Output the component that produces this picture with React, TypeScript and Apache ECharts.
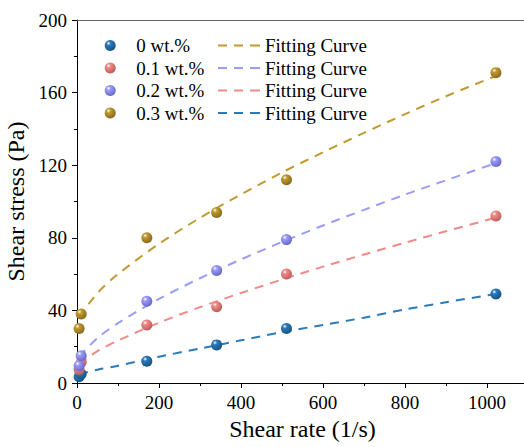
import React, { useEffect, useRef } from "react";
import * as echarts from "echarts";

const shearRate = [5.1, 10.2, 170.3, 340.6, 510.9, 1021.8];
const stress0 = [3.5, 5, 12, 21, 30, 49];
const stress1 = [7.5, 11.5, 32, 42, 60, 92];
const stress2 = [9.5, 15, 45, 62, 79, 122];
const stress3 = [30, 38, 80, 94, 112, 171];

const fitRate = [5, 50, 100, 200, 300, 400, 500, 600, 700, 800, 900, 1020];
const fit0 = [5, 7.3, 9.5, 14.5, 19, 23.5, 28, 32, 36, 40.5, 44.5, 49];
const fit1 = [10.5, 17.6, 23.4, 33.2, 41.8, 49.6, 57, 64.1, 70.8, 77.3, 83.6, 91];
const fit2 = [14.5, 24.8, 33, 46.3, 57.7, 68.1, 77.7, 86.8, 95.4, 103.8, 111.7, 121];
const fit3 = [36.3, 49.6, 60, 76.7, 91, 103.9, 116, 127.1, 137.8, 148.1, 158, 169];

const seriesNames = ["0 wt.%", "0.1 wt.%", "0.2 wt.%", "0.3 wt.%"];
const colors = ["#2b7bba", "#ef8a87", "#9b9bf8", "#c19a30"];
const darkColors = ["#15507f", "#b85a57", "#6464c4", "#84661a"];
const fitNames = ["Fitting Curve ", "Fitting Curve  ", "Fitting Curve   ", "Fitting Curve    "];

const FONT = "Liberation Serif";
const DASH_ICON = "path://M0,0h9v2h-9zM16,0h9v2h-9zM32,0h10v2h-10z";

export default function App() {
  const ref = useRef<HTMLDivElement>(null);
  useEffect(() => {
    if (!ref.current) return;
    const chart = echarts.init(ref.current, undefined, { renderer: "svg" });
    const pointSets = [stress0, stress1, stress2, stress3];
    const fitSets = [fit0, fit1, fit2, fit3];
    const scatterSeries = pointSets.map((vals, i) => ({
      type: "scatter",
      name: seriesNames[i],
      z: 5,
      symbolSize: 11,
      data: shearRate.map((x, j) => [x, vals[j]]),
      itemStyle: {
        opacity: 1,
        color: new echarts.graphic.RadialGradient(0.35, 0.3, 0.75, [
          { offset: 0, color: "#ffffff" },
          { offset: 0.25, color: colors[i] },
          { offset: 1, color: darkColors[i] },
        ]),
      },
    }));
    const lineSeries = fitSets.map((vals, i) => ({
      type: "line",
      name: fitNames[i],
      z: 3,
      smooth: 0.3,
      symbol: "none",
      showSymbol: false,
      data: fitRate.map((x, j) => [x, vals[j]]),
      itemStyle: { color: colors[i] },
      lineStyle: { color: colors[i], width: 2, type: [9, 7] },
    }));
    const legendText = { fontFamily: FONT, fontSize: 19, lineHeight: 19, color: "#000" };
    chart.setOption({
      animation: false,
      textStyle: { fontFamily: FONT },
      grid: { left: 77, top: 20, right: -4, bottom: 64, containLabel: false, outerBoundsMode: "none" },
      legend: [
        {
          data: seriesNames,
          orient: "vertical",
          left: 99.7,
          top: 31,
          itemWidth: 42,
          itemHeight: 11,
          itemGap: 3.5,
          selectedMode: false,
          icon: "circle",
          textStyle: legendText,
        },
        {
          data: [fitNames[3], fitNames[2], fitNames[1], fitNames[0]].map((n) => ({ name: n, icon: DASH_ICON })),
          orient: "vertical",
          left: 213,
          top: 31,
          itemWidth: 42,
          itemHeight: 2,
          itemGap: 3.5,
          selectedMode: false,
          formatter: (n: string) => n.trim(),
          textStyle: legendText,
        },
      ],
      xAxis: [
        {
          type: "value",
          min: 0,
          max: 1100,
          interval: 200,
          name: "Shear rate (1/s)",
          nameLocation: "middle",
          nameGap: 34,
          nameTextStyle: { fontFamily: FONT, fontSize: 24, color: "#000" },
          axisLine: { show: true, lineStyle: { color: "#000", width: 1 } },
          axisTick: { show: true, length: 5, lineStyle: { color: "#000" } },
          minorTick: { show: true, splitNumber: 2, length: 3, lineStyle: { color: "#000" } },
          splitLine: { show: false },
          axisLabel: {
            fontFamily: FONT, fontSize: 19, color: "#000", margin: 10, showMaxLabel: false,
            formatter: (v: number) => (v % 200 === 0 ? String(v) : ""),
          },
        },
        {
          type: "value",
          position: "top",
          min: 0,
          max: 1100,
          axisLine: { show: true, onZero: false, lineStyle: { color: "#666", width: 1 } },
          axisTick: { show: false },
          axisLabel: { show: false },
          splitLine: { show: false },
        },
      ],
      yAxis: {
        type: "value",
        min: 0,
        max: 200,
        interval: 40,
        name: "Shear stress (Pa)",
        nameLocation: "middle",
        nameGap: 41,
        nameTextStyle: { fontFamily: FONT, fontSize: 24, color: "#000" },
        axisLine: { show: true, lineStyle: { color: "#000", width: 1 } },
        axisTick: { show: true, length: 5, lineStyle: { color: "#000" } },
        minorTick: { show: true, splitNumber: 2, length: 3, lineStyle: { color: "#000" } },
        splitLine: { show: false },
        axisLabel: { fontFamily: FONT, fontSize: 19, color: "#000", margin: 10, formatter: (v: number) => String(v) },
      },
      series: [...lineSeries, ...scatterSeries],
    });
    return () => chart.dispose();
  }, []);
  return <div ref={ref} style={{ width: 524, height: 447, position: "absolute", left: 0, top: 0 }} />;
}
